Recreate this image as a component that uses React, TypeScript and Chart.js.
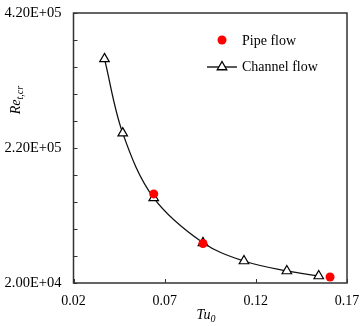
import { useEffect, useRef } from "react";
import { Chart, registerables } from "chart.js";

Chart.register(...registerables);

// Critical Reynolds number against inlet turbulence intensity
const channelTu = [0.037, 0.047, 0.064, 0.091, 0.1135, 0.137, 0.1545];
const channelRe = [352000, 242000, 146000, 79500, 52600, 37800, 30400];
const pipeTu = [0.064, 0.091, 0.1607];
const pipeRe = [152000, 78500, 28900];

const xTicks = [0.02, 0.07, 0.12, 0.17];
const yMarks = [20000, 60000, 100000, 140000, 180000, 220000, 260000, 300000, 340000, 380000, 420000];
const yLabelled = [20000, 220000, 420000];

const SERIF = "'Liberation Serif', 'Times New Roman', serif";

function sci(v: number): string {
  const [m, e] = v.toExponential(2).split("e");
  const n = Math.abs(parseInt(e, 10));
  const sign = e.startsWith("-") ? "-" : "+";
  return `${m}E${sign}${n < 10 ? "0" + n : n}`;
}

const framePlugin = {
  id: "frameAndLabels",
  afterDraw(chart: any) {
    const { ctx, chartArea } = chart;
    const { left, right, top, bottom } = chartArea;
    const xs = chart.scales.x;
    const ys = chart.scales.y;
    ctx.save();

    // plot frame
    ctx.strokeStyle = "#333";
    ctx.lineWidth = 1.5;
    ctx.strokeRect(left, top, right - left, bottom - top);

    // inward tick marks
    ctx.lineWidth = 1;
    ctx.beginPath();
    yMarks.forEach((v) => {
      const py = Math.round(ys.getPixelForValue(v)) + 0.5;
      ctx.moveTo(left, py);
      ctx.lineTo(left + 4, py);
    });
    xTicks.forEach((v) => {
      const px = Math.round(xs.getPixelForValue(v)) + 0.5;
      ctx.moveTo(px, bottom);
      ctx.lineTo(px, bottom - 4);
    });
    ctx.stroke();

    // y-axis title: Re_{t,cr}
    ctx.fillStyle = "#000";
    ctx.save();
    ctx.translate(16, 100);
    ctx.rotate(-Math.PI / 2);
    ctx.textBaseline = "middle";
    ctx.font = `italic 14px ${SERIF}`;
    const reW = ctx.measureText("Re").width;
    ctx.font = `italic 10px ${SERIF}`;
    const subW = ctx.measureText("t,cr").width;
    const startX = -(reW + subW) / 2;
    ctx.font = `italic 14px ${SERIF}`;
    ctx.fillText("Re", startX, 0);
    ctx.font = `italic 10px ${SERIF}`;
    ctx.fillText("t,cr", startX + reW, 4);
    ctx.restore();

    // x-axis title: Tu_0
    ctx.textBaseline = "middle";
    ctx.font = `italic 14px ${SERIF}`;
    const tuW = ctx.measureText("Tu").width;
    ctx.font = `italic 10px ${SERIF}`;
    const zW = ctx.measureText("0").width;
    const tx = 206 - (tuW + zW) / 2;
    ctx.font = `italic 14px ${SERIF}`;
    ctx.fillText("Tu", tx, 315);
    ctx.font = `italic 10px ${SERIF}`;
    ctx.fillText("0", tx + tuW, 319);

    // legend
    ctx.font = `14px ${SERIF}`;
    ctx.fillStyle = "#f00";
    ctx.beginPath();
    ctx.arc(222, 40, 4.5, 0, Math.PI * 2);
    ctx.fill();
    ctx.fillStyle = "#000";
    ctx.fillText("Pipe flow", 242, 41);

    ctx.strokeStyle = "#000";
    ctx.lineWidth = 1.3;
    ctx.beginPath();
    ctx.moveTo(207, 67);
    ctx.lineTo(237, 67);
    ctx.stroke();
    const r = 5.5;
    ctx.beginPath();
    ctx.moveTo(222, 67 - r);
    ctx.lineTo(222 + r * Math.sin((2 * Math.PI) / 3), 67 - r * Math.cos((2 * Math.PI) / 3));
    ctx.lineTo(222 + r * Math.sin((4 * Math.PI) / 3), 67 - r * Math.cos((4 * Math.PI) / 3));
    ctx.closePath();
    ctx.fillStyle = "#fff";
    ctx.fill();
    ctx.stroke();
    ctx.fillStyle = "#000";
    ctx.fillText("Channel flow", 242, 67);

    ctx.restore();
  },
};

export default function App() {
  const canvasRef = useRef<HTMLCanvasElement | null>(null);

  useEffect(() => {
    const canvas = canvasRef.current;
    if (!canvas) return;
    const chart = new Chart(canvas, {
      type: "scatter",
      data: {
        datasets: [
          {
            label: "Pipe flow",
            data: pipeTu.map((x, i) => ({ x, y: pipeRe[i] })),
            showLine: false,
            pointStyle: "circle",
            pointRadius: 4.5,
            pointBackgroundColor: "#ff0000",
            pointBorderColor: "#ff0000",
            pointBorderWidth: 0,
          },
          {
            label: "Channel flow",
            data: channelTu.map((x, i) => ({ x, y: channelRe[i] })),
            showLine: true,
            tension: 0.35,
            borderColor: "#111",
            borderWidth: 1.3,
            pointStyle: "triangle",
            pointRadius: 5.5,
            pointBackgroundColor: "#fff",
            pointBorderColor: "#000",
            pointBorderWidth: 1.2,
          },
        ],
      },
      options: {
        animation: false,
        responsive: false,
        devicePixelRatio: 1,
        layout: { padding: { top: 13, right: 14, left: 0, bottom: 0 } },
        plugins: { legend: { display: false }, tooltip: { enabled: false } },
        scales: {
          x: {
            type: "linear",
            min: 0.02,
            max: 0.17,
            grid: { display: false, drawTicks: false },
            border: { display: false },
            afterBuildTicks: (s: any) => {
              s.ticks = xTicks.map((value) => ({ value }));
            },
            afterFit: (s: any) => {
              s.height = 43;
              s.paddingLeft = 0;
              s.paddingRight = 0;
            },
            ticks: {
              padding: 10,
              color: "#000",
              maxRotation: 0,
              font: { family: SERIF, size: 14 },
              callback: (v: any) => Number(v).toFixed(2),
            },
          },
          y: {
            type: "linear",
            min: 20000,
            max: 420000,
            grid: { display: false, drawTicks: false },
            border: { display: false },
            afterBuildTicks: (s: any) => {
              s.ticks = yMarks.map((value) => ({ value }));
            },
            afterFit: (s: any) => {
              s.width = 73.5;
              s.paddingTop = 0;
              s.paddingBottom = 0;
            },
            ticks: {
              padding: 12,
              color: "#000",
              autoSkip: false,
              font: { family: SERIF, size: 14.5 },
              callback: (v: any) => (yLabelled.includes(Number(v)) ? sci(Number(v)) : ""),
            },
          },
        },
      },
      plugins: [framePlugin],
    });
    return () => chart.destroy();
  }, []);

  return (
    <div style={{ position: "fixed", left: 0, top: 0, width: 361, height: 326, background: "#fff" }}>
      <canvas ref={canvasRef} width={361} height={326} />
    </div>
  );
}
